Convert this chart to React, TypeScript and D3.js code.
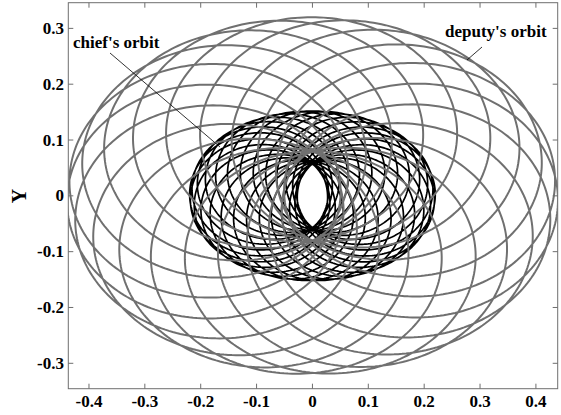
import React from "react";
import * as d3 from "d3";

// Orbit harmonics: [fast term, slow term] amplitudes in X and Y
const chiefAmpX = [0.1235, 0.0965];
const chiefAmpY = [0.1075, 0.0445];
const chiefPhase = [0, 0.3];
const chiefLoops = 26;

const deputyAmpX = [0.245, 0.195];
const deputyAmpY = [0.2, 0.12];
const deputyPhase = [0, 1.5];
const deputyLoops = 20;

const xTicks = [-0.4, -0.3, -0.2, -0.1, 0, 0.1, 0.2, 0.3, 0.4];
const yTicks = [-0.3, -0.2, -0.1, 0, 0.1, 0.2, 0.3];

const xDomain = [-0.437, 0.439];
const yDomain = [-0.3455, 0.346];

function orbit(ax: number[], ay: number[], ph: number[], loops: number) {
  const nu = 1 / loops;
  const n = loops * 220;
  const T = 2 * Math.PI * loops;
  return d3.range(n + 1).map((k) => {
    const t = (k / n) * T;
    return [
      ax[0] * Math.cos(t + ph[0]) + ax[1] * Math.cos(nu * t + ph[1]),
      ay[0] * Math.sin(t + ph[0]) + ay[1] * Math.sin(nu * t + ph[1]),
    ] as [number, number];
  });
}

const fmt = (v: number) => (v === 0 ? "0" : d3.format(".1f")(v).replace("\u2212", "-"));

export default function App() {
  const left = 68.3, right = 557.7, top = 2.7, bottom = 388.7;
  const x = d3.scaleLinear().domain(xDomain).range([left, right]);
  const y = d3.scaleLinear().domain(yDomain).range([bottom, top]);
  const line = d3.line<[number, number]>().x((p) => x(p[0])).y((p) => y(p[1]));
  const chief = orbit(chiefAmpX, chiefAmpY, chiefPhase, chiefLoops);
  const deputy = orbit(deputyAmpX, deputyAmpY, deputyPhase, deputyLoops);
  const font = "'Liberation Serif', 'Times New Roman', serif";
  const axisColor = "#6e6e6e";
  const tickLen = 5;
  return (
    <svg
      width={561}
      height={415}
      style={{ position: "absolute", left: 0, top: 0, background: "#fff" }}
      fontFamily={font}
    >
      <defs>
        <clipPath id="plot-area">
          <rect x={left} y={top} width={right - left} height={bottom - top} />
        </clipPath>
      </defs>
      <g clipPath="url(#plot-area)">
        <path d={line(chief) || ""} fill="none" stroke="#000" strokeWidth={1.7} />
        <path d={line(deputy) || ""} fill="none" stroke="#707070" strokeWidth={2} />
      </g>
      <rect x={left} y={top} width={right - left} height={bottom - top} fill="none" stroke={axisColor} strokeWidth={1} />
      {xTicks.map((t) => (
        <g key={"x" + t}>
          <line x1={x(t)} x2={x(t)} y1={bottom} y2={bottom - tickLen} stroke={axisColor} />
          <line x1={x(t)} x2={x(t)} y1={top} y2={top + tickLen} stroke={axisColor} />
          <text x={x(t)} y={407} textAnchor="middle" fontSize={17} fontWeight="bold">
            {fmt(t)}
          </text>
        </g>
      ))}
      {yTicks.map((t) => (
        <g key={"y" + t}>
          <line x1={left} x2={left + tickLen} y1={y(t)} y2={y(t)} stroke={axisColor} />
          <line x1={right} x2={right - tickLen} y1={y(t)} y2={y(t)} stroke={axisColor} />
          <text x={64} y={y(t) + 5.5} textAnchor="end" fontSize={17} fontWeight="bold">
            {fmt(t)}
          </text>
        </g>
      ))}
      <text transform="translate(26,196) rotate(-90)" textAnchor="middle" fontSize={20} fontWeight="bold">
        Y
      </text>
      <text x={73} y={48} fontSize={17} fontWeight="bold">chief's orbit</text>
      <line x1={110} y1={53} x2={220} y2={147} stroke="#000" strokeWidth={0.8} />
      <text x={445} y={37} fontSize={17} fontWeight="bold">deputy's orbit</text>
      <line x1={482} y1={47} x2={467} y2={60} stroke="#000" strokeWidth={0.8} />
    </svg>
  );
}
